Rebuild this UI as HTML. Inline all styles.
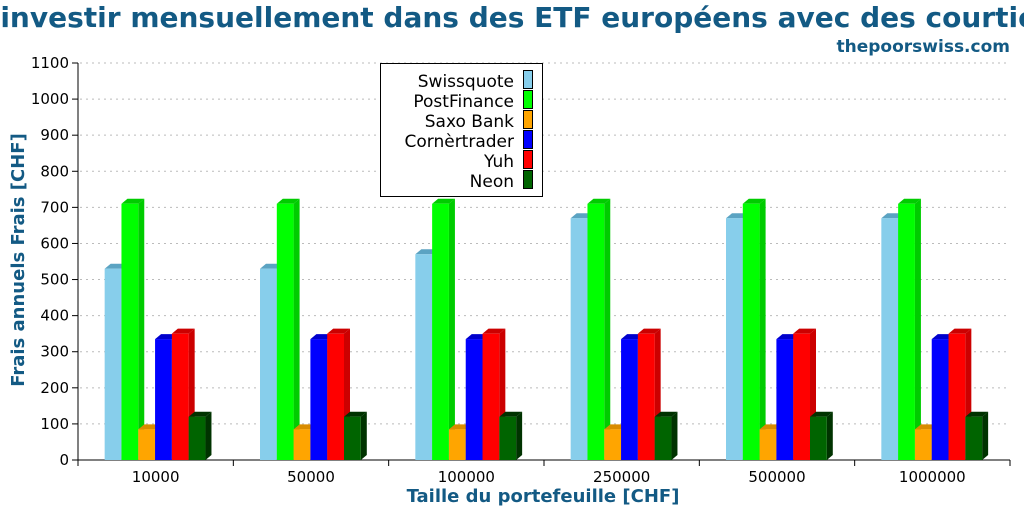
<!DOCTYPE html>
<html><head><meta charset="utf-8"><style>
body{margin:0;background:#fff;overflow:hidden}
svg{font-family:"DejaVu Sans","Liberation Sans",sans-serif}
</style></head><body>
<svg width="1024" height="512" viewBox="0 0 1024 512">
<text x="512" y="27" text-anchor="middle" font-size="28" font-weight="bold" fill="#135a84">Frais pour investir mensuellement dans des ETF européens avec des courtiers suisses</text>
<text x="1010" y="52" text-anchor="end" font-size="17" font-weight="bold" fill="#135a84">thepoorswiss.com</text>
<g id="grid"></g>
<g id="axes"></g>
<g id="bars"></g>
<text x="543" y="502" text-anchor="middle" font-size="18" font-weight="bold" fill="#135a84">Taille du portefeuille [CHF]</text>
<text transform="translate(24,260) rotate(-90)" text-anchor="middle" font-size="18" font-weight="bold" fill="#135a84">Frais annuels Frais [CHF]</text>
<g id="legend"></g>
</svg>
<script>
const categories=["10000","50000","100000","250000","500000","1000000"];
const seriesNames=["Swissquote","PostFinance","Saxo Bank","Cornèrtrader","Yuh","Neon"];
const swissquote=[530,530,570,670,670,670];
const postfinance=[710,710,710,710,710,710];
const saxo=[85,85,85,85,85,85];
const corner=[335,335,335,335,335,335];
const yuh=[350,350,350,350,350,350];
const neon=[120,120,120,120,120,120];
const yTicks=[0,100,200,300,400,500,600,700,800,900,1000,1100];
const series=[swissquote,postfinance,saxo,corner,yuh,neon];
const front=["#87ceeb","#00ff00","#ffa500","#0000ff","#ff0000","#006400"];
const top_=["#5ba3c2","#00cc00","#d98c00","#0000cc","#cc0000","#003300"];
const NS="http://www.w3.org/2000/svg";
const X0=78,X1=1010,Y0=460,Y1=63;
const yScale=v=>Y0-(v/1100)*(Y0-Y1);
const gw=(X1-X0)/categories.length;
const xCenter=i=>X0+gw*(i+0.5);
const bw=16.8;
function mk(t,a,p){const e=document.createElementNS(NS,t);for(const k in a)e.setAttribute(k,a[k]);p.appendChild(e);return e;}
const grid=document.getElementById('grid'),axes=document.getElementById('axes'),bars=document.getElementById('bars'),leg=document.getElementById('legend');
yTicks.forEach(v=>{const y=yScale(v);
 if(v>0){const g=mk('line',{x1:80,x2:X1,y1:y,y2:y,stroke:'#bbb','stroke-dasharray':'2,4'},grid);
 
 }
 const t=mk('line',{x1:72,x2:78,y1:y,y2:y,stroke:'#000'},axes);
 
 
 const l=mk('text',{x:69,y:y+5,'text-anchor':'end','font-size':15},axes);l.textContent=v;
 
 
});
const ya=mk('line',{x1:X0,x2:X0,y1:Y1,y2:Y0+6,stroke:'#000'},axes);


const xa=mk('line',{x1:X0,x2:X1,y1:Y0,y2:Y0,stroke:'#000'},axes);


for(let i=0;i<=categories.length;i++){const x=X0+gw*i;
 const t=mk('line',{x1:x,x2:x,y1:Y0,y2:Y0+6,stroke:'#000'},axes);
 
 }
categories.forEach((c,i)=>{const l=mk('text',{x:xCenter(i),y:482,'text-anchor':'middle','font-size':15},axes);l.textContent=c;
 
 
 series.forEach((s,j)=>{const x=xCenter(i)-51+j*bw,y=yScale(s[i]);const d=6,u=5;
  const g=mk('g',{},bars);
  
  
  mk('polygon',{points:`${x+bw},${y} ${x+bw+d},${y-u} ${x+bw+d},${Y0-u} ${x+bw},${Y0}`,fill:top_[j]},g);
  mk('polygon',{points:`${x},${y} ${x+d},${y-u} ${x+bw+d},${y-u} ${x+bw},${y}`,fill:top_[j]},g);
  mk('rect',{x:x,y:y,width:bw,height:Y0-y,fill:front[j]},g);
 });
});
const lb=mk('rect',{x:380.5,y:63.5,width:162,height:133,fill:'#fff',stroke:'#000'},leg);


seriesNames.forEach((n,j)=>{const y=80+j*20;
 const g=mk('g',{},leg);
 
 
 const t=mk('text',{x:514,y:y+7,'text-anchor':'end','font-size':17},g);t.textContent=n;
 mk('rect',{x:523.5,y:y-9.5,width:9,height:18,fill:front[j],stroke:'#000'},g);
});
</script>
</body></html>
